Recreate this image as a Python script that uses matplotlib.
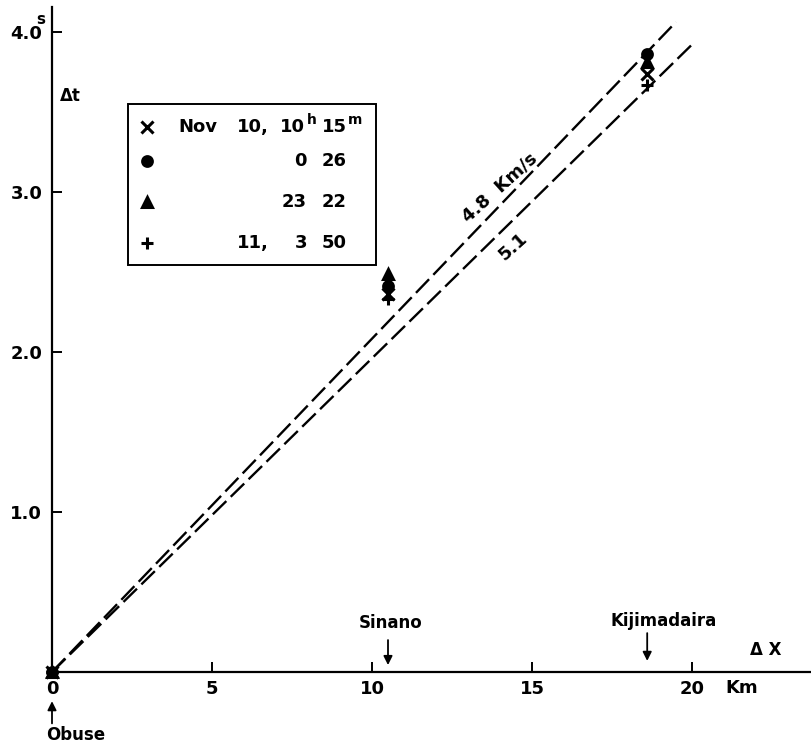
import numpy as np
import matplotlib
matplotlib.use('agg')
import matplotlib.pyplot as plt
from matplotlib.patches import Rectangle

W, H = 811, 745

# travel time vs distance from Obuse
stations = ['Obuse', 'Sinano', 'Kijimadaira']
station_km = [0.0, 10.5, 18.6]

# one series per event, values at each station (s)
event_markers = ['x', 'o', '^', '+']
t_obuse = [0.0, 0.0, 0.0, 0.0]
t_sinano = [2.36, 2.41, 2.49, 2.33]
t_kiji = [3.74, 3.86, 3.81, 3.67]

# reference velocity lines
velocities = [4.8, 5.1]
line_end_km = [19.5, 20.0]
velocity_labels = ['4.8  Km/s', '5.1']

x_ticks = [0, 5, 10, 15, 20]
x_ticklabels = ['0', '5', '10', '15', '20']
y_ticks = [1.0, 2.0, 3.0, 4.0]
y_ticklabels = ['1.0', '2.0', '3.0', '4.0']

FS = 13
plt.rcParams['font.family'] = 'DejaVu Sans'
plt.rcParams['font.weight'] = 'bold'


def px(x, y):
    return x / W, 1 - y / H


fig = plt.figure(figsize=(W / 100, H / 100), dpi=100)
ax = fig.add_axes([52 / W, (H - 672) / H, (W - 52) / W, (672 - 7) / H])
ax.set_xlim(0, (W - 52) / 32.0)
ax.set_ylim(0, (672 - 7) / 160.0)

for s in ['top', 'right']:
    ax.spines[s].set_visible(False)
for s in ['left', 'bottom']:
    ax.spines[s].set_linewidth(1.6)

ax.set_xticks(x_ticks)
ax.set_xticklabels(x_ticklabels, fontsize=FS, fontweight='bold')
ax.set_yticks(y_ticks)
ax.set_yticklabels(y_ticklabels, fontsize=FS, fontweight='bold')
ax.tick_params(axis='both', direction='in', length=7, width=1.4)
ax.tick_params(axis='x', pad=6)
ax.tick_params(axis='y', pad=7)

# dashed velocity lines through the origin
for v, xe in zip(velocities, line_end_km):
    xs = np.array([0.0, xe])
    ax.plot(xs, xs / v, color='black', lw=1.7, dashes=(8, 2.6))

ax.text(14.0, 3.03, velocity_labels[0], fontsize=FS, rotation=42,
        ha='center', va='center', rotation_mode='anchor')
ax.text(14.4, 2.66, velocity_labels[1], fontsize=FS, rotation=42,
        ha='center', va='center', rotation_mode='anchor')

# observed points
for i, m in enumerate(event_markers):
    ts = [t_obuse[i], t_sinano[i], t_kiji[i]]
    ms = 7 if m in ('o', '^') else 8
    ax.plot(station_km, ts, linestyle='none', marker=m, ms=ms,
            color='black', mew=2.2, clip_on=False, zorder=5)

# station arrows
ax.annotate('', xy=(station_km[0], 0), xytext=(0, -37), textcoords='offset points',
            arrowprops=dict(arrowstyle='-|>', color='black', lw=1.3,
                            shrinkA=0, shrinkB=21, mutation_scale=13))
ax.annotate(stations[0], xy=(station_km[0], 0), xytext=(-4, -45),
            textcoords='offset points', ha='left', va='center', fontsize=FS - 1)

for name, xk, a_tail, t_y, t_dx, gap in [(stations[1], station_km[1], 23, 35, 2, 5),
                                         (stations[2], station_km[2], 28, 37, 12, 8)]:
    ax.annotate('', xy=(xk, 0), xytext=(0, a_tail), textcoords='offset points',
                arrowprops=dict(arrowstyle='-|>', color='black', lw=1.3,
                                shrinkA=0, shrinkB=gap, mutation_scale=13))
    ax.annotate(name, xy=(xk, 0), xytext=(t_dx, t_y), textcoords='offset points',
                ha='center', va='center', fontsize=FS - 1)

# axis names and units
ax.text(22.3, 0.14, 'Δ X', fontsize=FS - 1, ha='center', va='center')
ax.text(0.56, 3.6, 'Δt', fontsize=FS - 1, ha='center', va='center')
ax.annotate('Km', xy=(20, 0), xytext=(24, -11.5), textcoords='offset points',
            ha='left', va='center', fontsize=FS, annotation_clip=False)
ax.annotate('s', xy=(0, 4.0), xytext=(-8, 9), textcoords='offset points',
            ha='center', va='center', fontsize=FS - 2, annotation_clip=False)

# legend box
x0, y0 = px(128, 265)
x1, y1 = px(376, 104)
fig.add_artist(Rectangle((x0, y0), x1 - x0, y1 - y0, transform=fig.transFigure,
                         fill=False, lw=1.4, ec='black'))

row_y = [127, 161, 202, 243]
hours = ['10', '0', '23', '3']
minutes = ['15', '26', '22', '50']
days = ['10,', '', '', '11,']
for i, m in enumerate(event_markers):
    ms = 7 if m in ('o', '^') else 8
    fig.add_artist(plt.Line2D([px(147, 0)[0]], [px(0, row_y[i])[1]], marker=m,
                              ms=ms, mew=2.2, color='black',
                              transform=fig.transFigure))
    if days[i]:
        fig.text(*px(237, row_y[i]), days[i], fontsize=FS, ha='left', va='center')
    hx = 305 if i == 0 else 307
    fig.text(*px(hx, row_y[i]), hours[i], fontsize=FS, ha='right', va='center')
    fig.text(*px(322, row_y[i]), minutes[i], fontsize=FS, ha='left', va='center')

fig.text(*px(178, 127), 'Nov', fontsize=FS, ha='left', va='center')
fig.text(*px(307, 120), 'h', fontsize=FS - 3, ha='left', va='center')
fig.text(*px(348, 120), 'm', fontsize=FS - 3, ha='left', va='center')

fig.savefig('out.png', dpi=100)
